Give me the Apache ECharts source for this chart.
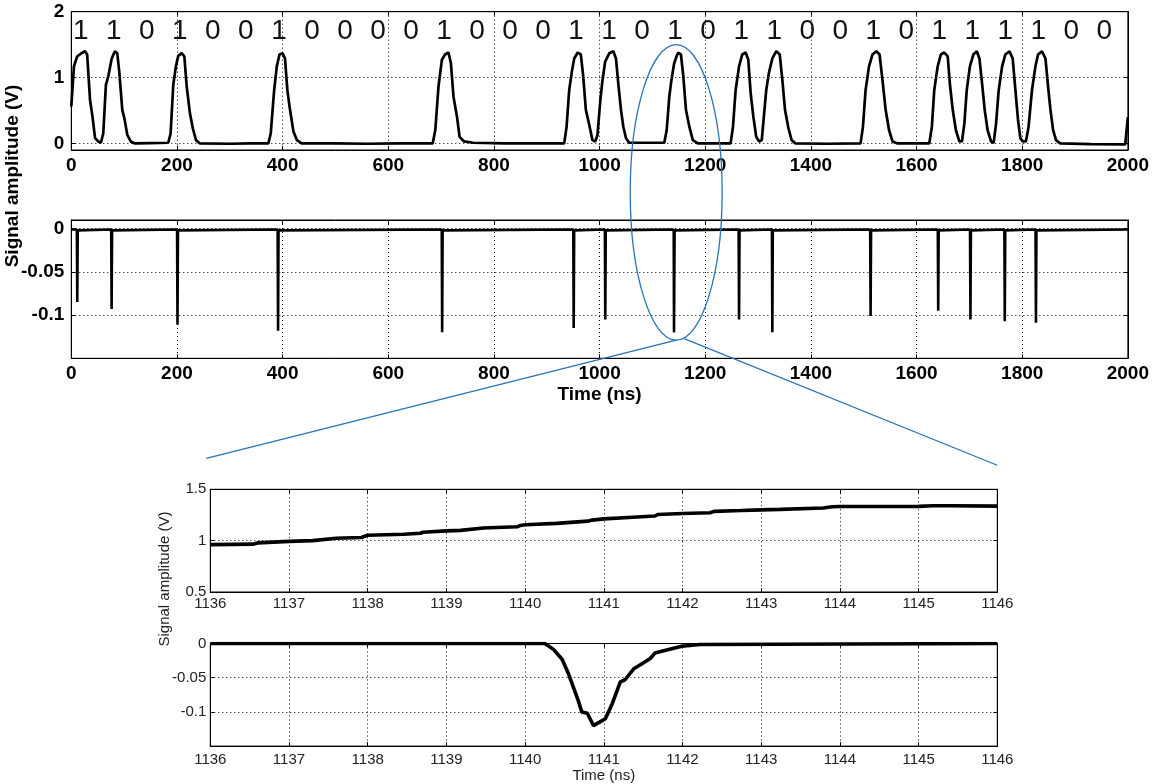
<!DOCTYPE html>
<html><head><meta charset="utf-8">
<script src="https://cdn.jsdelivr.net/npm/echarts@6/dist/echarts.min.js"></script>
<style>html,body{margin:0;padding:0;background:#fff}#c{width:1152px;height:784px}</style>
</head><body><div id="c"></div>
<script>
// ---- data ----
const bitLabels = ['1','1','0','1','0','0','1','0','0','0','0','1','0','0','0','1',
                   '1','0','1','0','1','1','0','0','1','0','1','1','1','1','0','0'];

const pulseTrace = [
[0,0.56],[5,1.17],[11,1.32],[19.5,1.37],[26,1.40],[30,1.35],[35.5,0.66],[40,0.41],[45,0.08],[51,0.03],[56,0.01],[60.5,0.15],[65.5,0.89],[70,1.02],[76.5,1.29],[82.5,1.40],[87,1.37],[91,1.07],[96.5,0.51],[100.5,0.38],[106,0.13],[112.5,0.03],[120.5,0],
[150,0.005],[183.5,0.01],
[188,0.15],[193,0.89],[198,1.17],[202.5,1.33],[209,1.37],[214,1.32],[218.5,0.86],[224.5,0.46],[230,0.23],[236,0.05],[243.5,0],
[300,-0.005],[340,0],[373,0],
[377.5,0.15],[384,0.81],[389,1.17],[394,1.35],[400,1.37],[404.5,1.29],[409,0.81],[414,0.51],[420.5,0.18],[427,0.05],[436,0],
[500,0],[560,-0.005],[620,0],[684,0],
[689,0.2],[695,0.86],[701.5,1.27],[707.5,1.35],[714,1.38],[718.5,1.22],[723.5,0.71],[730,0.41],[735,0.1],[743.5,0.03],[761,0.01],
[820,0],[900,0],[933,0],
[937.5,0.25],[942.5,0.81],[947.5,1.09],[952,1.29],[958.5,1.38],[964.5,1.35],[969,1.02],[974,0.51],[980.5,0.28],[986.5,0.05],[992,0.03],[996,0.13],[1001.5,0.66],[1005.5,0.96],[1010.5,1.24],[1018.5,1.37],[1026,1.40],[1031,1.29],[1036,0.86],[1040.5,0.51],[1045,0.25],[1050,0.08],[1056,0.01],
[1090,0.01],[1122.5,0.01],
[1127,0.2],[1132,0.71],[1136,0.96],[1141,1.21],[1146,1.33],[1149,1.38],[1154,1.35],[1158.5,1.02],[1163.5,0.51],[1170,0.25],[1176.5,0.05],[1186,0],
[1220,0],[1248,0],
[1252.5,0.25],[1257.5,0.81],[1264,1.17],[1270,1.35],[1276.5,1.38],[1281.5,1.27],[1286,0.76],[1291,0.41],[1296.5,0.1],[1302,0.03],[1307,0.05],[1311,0.41],[1315.5,0.81],[1320.5,1.07],[1327,1.29],[1334.5,1.40],[1341,1.35],[1346,0.96],[1351,0.51],[1357.5,0.23],[1363.5,0.05],[1371,0],
[1430,-0.005],[1494,0],
[1498.5,0.25],[1503.5,0.81],[1510,1.17],[1516.5,1.35],[1524,1.40],[1530,1.35],[1535.5,0.96],[1541.5,0.51],[1548,0.2],[1554.5,0.03],[1564,0],
[1600,0],[1624,0],
[1629,0.25],[1633.5,0.81],[1640,1.17],[1646,1.35],[1652.5,1.38],[1659,1.32],[1663,0.91],[1668.5,0.51],[1674.5,0.2],[1681,0.03],[1686,0.03],[1690.5,0.3],[1695,0.81],[1701,1.17],[1707.5,1.35],[1714,1.40],[1719,1.29],[1724,0.91],[1729,0.51],[1734.5,0.2],[1741,0.03],[1746,0.01],[1750.5,0.3],[1755.5,0.81],[1762,1.17],[1768,1.35],[1776,1.40],[1782,1.29],[1786,0.91],[1792,0.36],[1796.5,0.08],[1801,0.03],[1807,0.03],[1812,0.25],[1818.5,0.81],[1825,1.17],[1830,1.35],[1837.5,1.40],[1844,1.29],[1849,0.86],[1853.5,0.51],[1858.5,0.2],[1864,0.05],[1872,0],
[1930,-0.01],[1995,-0.015],[2000,0.4]
];

const spikeTrace = [
[0,-0.001],
[10.5,-0.001],[11.3,-0.085],[12.2,-0.002],
[75.5,-0.001],[76.3,-0.093],[77.2,-0.002],
[200.2,-0.001],[201,-0.111],[201.9,-0.002],
[390.6,-0.001],[391.4,-0.118],[392.3,-0.002],
[701.2,-0.001],[702,-0.12],[702.9,-0.002],
[950.2,-0.001],[951,-0.115],[951.9,-0.002],
[1010,-0.001],[1010.8,-0.105],[1011.7,-0.002],
[1140.3,-0.001],[1140.9,-0.12],[1142,-0.002],
[1263.2,-0.001],[1264,-0.105],[1264.9,-0.002],
[1326.2,-0.001],[1327,-0.12],[1327.9,-0.002],
[1512.2,-0.001],[1513,-0.101],[1513.9,-0.002],
[1640.2,-0.001],[1641,-0.095],[1641.9,-0.002],
[1701.2,-0.001],[1702,-0.105],[1702.9,-0.002],
[1766.2,-0.001],[1767,-0.107],[1767.9,-0.002],
[1825.2,-0.001],[1826,-0.109],[1826.9,-0.002],
[2000,-0.001]
];

const zoomRise = [
[1136,0.961],[1136.55,0.966],[1136.6,0.978],[1137,0.993],[1137.3,1.0],[1137.32,1.016],[1137.6,1.023],[1137.92,1.03],[1137.94,1.045],[1138,1.052],[1138.46,1.063],[1138.67,1.072],[1138.7,1.082],[1139,1.095],[1139.18,1.1],[1139.2,1.112],[1139.47,1.123],[1139.9,1.135],[1139.94,1.148],[1140,1.155],[1140.4,1.168],[1140.8,1.19],[1140.85,1.2],[1141,1.212],[1141.37,1.228],[1141.65,1.24],[1141.69,1.255],[1142,1.265],[1142.35,1.272],[1142.4,1.285],[1142.74,1.293],[1143,1.3],[1143.24,1.305],[1143.79,1.318],[1143.9,1.33],[1144,1.332],[1145,1.334],[1145.18,1.34],[1145.4,1.34],[1146,1.336]
];

const zoomDip = [
[1136,0],[1140.25,0],[1140.36,-0.0086],[1140.47,-0.023],[1140.55,-0.044],[1140.62,-0.066],[1140.68,-0.085],[1140.72,-0.1],[1140.79,-0.102],[1140.87,-0.12],[1140.93,-0.116],[1141.02,-0.11],[1141.1,-0.09],[1141.21,-0.056],[1141.27,-0.053],[1141.38,-0.037],[1141.48,-0.03],[1141.59,-0.022],[1141.65,-0.014],[1141.8,-0.0096],[1141.99,-0.004],[1142.22,-0.0015],[1146,0]
];

const topYTicks = [0, 1, 2];
const spikeYTicks = [-0.1, -0.05, 0];
const dipYTicks = [-0.1, -0.05, 0];

// ---- chart ----
const FONT = '"Liberation Sans", Arial, sans-serif';
const chart = echarts.init(document.getElementById('c'), null, {renderer: 'canvas'});

const grid = [
  {left: 71.3, top: 11.7, width: 1058, height: 138.3},
  {left: 71.3, top: 220, width: 1058, height: 138.3},
  {left: 210.3, top: 489.3, width: 787, height: 102.7},
  {left: 210.3, top: 643.5, width: 787, height: 104}
];
grid.forEach(g => { g.show = true; g.borderColor = '#000'; g.borderWidth = 1; g.backgroundColor = '#fff'; g.containLabel = false; });

const gridDots = {show: true, lineStyle: {color: '#000', width: 1, type: [1, 3]}};
const tick = {show: true, inside: true, length: 4, lineStyle: {color: '#000', width: 1}};
const line = {show: true, onZero: false, lineStyle: {color: '#000', width: 1}};
const plain = v => String(v);

function big(margin) { return {margin: margin, fontSize: 19, fontWeight: 'bold', color: '#000', fontFamily: FONT, formatter: plain}; }
function small(margin) { return {margin: margin, fontSize: 15, color: '#222', fontFamily: FONT, formatter: plain}; }

const xBig = {type: 'value', min: 0, max: 2000, interval: 200};
const xSmall = {type: 'value', min: 1136, max: 1146, interval: 1};

const xAxis = [
  Object.assign({gridIndex: 0, position: 'bottom', axisLine: line, axisTick: tick, axisLabel: big(6), splitLine: gridDots}, xBig),
  Object.assign({gridIndex: 1, position: 'bottom', axisLine: line, axisTick: tick, axisLabel: big(6), splitLine: gridDots,
    name: 'Time (ns)', nameLocation: 'middle', nameGap: 27, nameTextStyle: {fontSize: 19, fontWeight: 'bold', color: '#000', fontFamily: FONT}}, xBig),
  Object.assign({gridIndex: 2, position: 'bottom', axisLine: line, axisTick: tick, axisLabel: small(4), splitLine: gridDots}, xSmall),
  Object.assign({gridIndex: 3, position: 'bottom', axisLine: line, axisTick: tick, axisLabel: small(6), splitLine: gridDots,
    name: 'Time (ns)', nameLocation: 'middle', nameGap: 20, nameTextStyle: {fontSize: 15, color: '#222', fontFamily: FONT}}, xSmall),
  // mirrored top ticks
  Object.assign({gridIndex: 0, position: 'top', axisLine: line, axisTick: tick, axisLabel: {show: false}, splitLine: {show: false}}, xBig),
  Object.assign({gridIndex: 1, position: 'top', axisLine: line, axisTick: tick, axisLabel: {show: false}, splitLine: {show: false}}, xBig),
  Object.assign({gridIndex: 2, position: 'top', axisLine: line, axisTick: tick, axisLabel: {show: false}, splitLine: {show: false}}, xSmall),
  Object.assign({gridIndex: 3, position: 'top', axisLine: line, axisTick: tick, axisLabel: {show: false}, splitLine: {show: false}}, xSmall),
  // bit labels above the pulses
  {gridIndex: 0, type: 'category', position: 'top', data: bitLabels, boundaryGap: true,
   axisLine: {show: false}, axisTick: {show: false}, splitLine: {show: false},
   axisLabel: {inside: true, interval: 0, margin: 20, fontSize: 28, color: '#111', fontFamily: FONT, verticalAlign: 'middle', padding: [0, 14, 0, 0]}}
];

function yA(gi, pos, min, max, ticks, interval, label) {
  const a = {gridIndex: gi, type: 'value', position: pos, min: min, max: max,
    axisLine: line,
    axisTick: Object.assign({}, tick),
    axisLabel: label ? Object.assign({}, label) : {show: false},
    splitLine: pos === 'left' ? gridDots : {show: false}};
  if (ticks) { a.axisTick.customValues = ticks; if (label) a.axisLabel.customValues = ticks; }
  if (interval) a.interval = interval;
  return a;
}

const yAxis = [
  yA(0, 'left', -0.1, 2, topYTicks, null, big(7)),
  yA(1, 'left', -0.15, 0.01, spikeYTicks, null, big(7)),
  yA(2, 'left', 0.5, 1.5, null, 0.5, small(4)),
  yA(3, 'left', -0.15, 0, dipYTicks, null, small(4)),
  yA(0, 'right', -0.1, 2, topYTicks, null, null),
  yA(1, 'right', -0.15, 0.01, spikeYTicks, null, null),
  yA(2, 'right', 0.5, 1.5, null, 0.5, null),
  yA(3, 'right', -0.15, 0, dipYTicks, null, null)
];

function trace(xi, yi, data, w) {
  return {type: 'line', xAxisIndex: xi, yAxisIndex: yi, data: data, showSymbol: false, symbol: 'none',
    lineStyle: {color: '#000', width: w}, silent: true, animation: false, z: 3};
}

chart.setOption({
  animation: false,
  backgroundColor: '#fff',
  grid: grid,
  xAxis: xAxis,
  yAxis: yAxis,
  series: [
    trace(0, 0, pulseTrace, 2.7),
    trace(1, 1, spikeTrace, 2.6),
    trace(2, 2, zoomRise, 3.6),
    trace(3, 3, zoomDip, 3.6)
  ]
});

// annotation: ellipse around the zoomed pulse and the connecting lines
const px = (ax, v) => chart.convertToPixel({xAxisIndex: ax}, v);
const py = (ax, v) => chart.convertToPixel({yAxisIndex: ax}, v);
const ecx = px(0, 1145), erx = ecx - px(0, 1058);
const etop = py(0, 1.5), ebot = py(1, -0.129);
const zTop = py(2, 1.5);
const blue = '#2673b6';
chart.setOption({
  graphic: [
    {type: 'ellipse', shape: {cx: ecx, cy: (etop + ebot) / 2, rx: erx, ry: (ebot - etop) / 2},
     style: {fill: null, stroke: blue, lineWidth: 1.3}, z: 10, silent: true},
    {type: 'line', shape: {x1: ecx, y1: ebot, x2: px(2, 1136) - 4, y2: zTop - 31},
     style: {stroke: blue, lineWidth: 1.3}, z: 10, silent: true},
    {type: 'line', shape: {x1: ecx + 8, y1: ebot - 1.5, x2: px(2, 1146), y2: zTop - 24},
     style: {stroke: blue, lineWidth: 1.2}, z: 10, silent: true},
    {type: 'text', x: 12.5, y: 176, rotation: Math.PI / 2, silent: true,
     style: {text: 'Signal amplitude (V)', font: 'bold 19px ' + FONT, fill: '#000', align: 'center', verticalAlign: 'middle'}},
    {type: 'text', x: 165, y: 579, rotation: Math.PI / 2, silent: true,
     style: {text: 'Signal amplitude (V)', font: '15px ' + FONT, fill: '#222', align: 'center', verticalAlign: 'middle'}}
  ]
});
</script></body></html>
